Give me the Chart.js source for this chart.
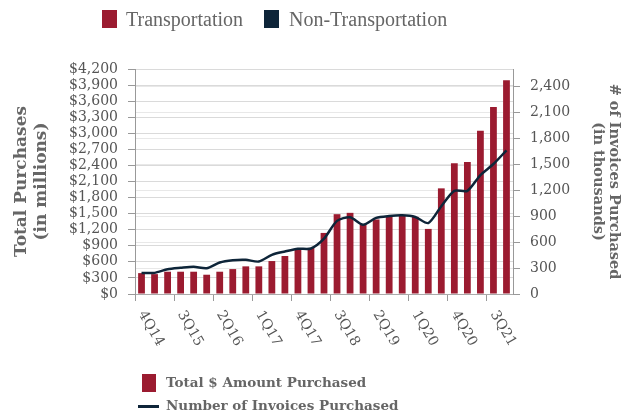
<!DOCTYPE html>
<html>
<head>
<meta charset="utf-8">
<script src="https://cdn.jsdelivr.net/npm/chart.js@4"></script>
<style>
  html, body { margin: 0; padding: 0; background: #fff; }
  #wrap { position: relative; width: 623px; height: 417px; overflow: hidden; font-family: "DejaVu Serif", serif; }
  #chart { position: absolute; left: 0; top: 0; }
  .sw { position: absolute; }
  .lbl { position: absolute; color: #666; white-space: nowrap; line-height: 1; }
  .top { font-family: "Liberation Serif", serif; font-size: 20px; top: 9px; }
  .bot { font-size: 13.5px; font-weight: bold; }
</style>
</head>
<body>
<div id="wrap">
  <canvas id="chart" width="623" height="417"></canvas>
  <!-- top legend -->
  <div class="sw" style="left:102px;top:10px;width:15px;height:18px;background:#9b1b30"></div>
  <div class="lbl top" style="left:126px">Transportation</div>
  <div class="sw" style="left:264px;top:10px;width:15px;height:18px;background:#0e2539"></div>
  <div class="lbl top" style="left:289px">Non-Transportation</div>
  <!-- bottom legend -->
  <div class="sw" style="left:142px;top:374px;width:14px;height:18px;background:#9b1b30"></div>
  <div class="lbl bot" style="left:166px;top:376px">Total $ Amount Purchased</div>
  <div class="sw" style="left:138px;top:405px;width:21px;height:3px;background:#0e2539"></div>
  <div class="lbl bot" style="left:166px;top:399px">Number of Invoices Purchased</div>
</div>
<script>
// quarters, 4Q14 - 4Q21
const quarters = ['4Q14', '1Q15', '2Q15', '3Q15', '4Q15', '1Q16', '2Q16', '3Q16', '4Q16',
  '1Q17', '2Q17', '3Q17', '4Q17', '1Q18', '2Q18', '3Q18', '4Q18', '1Q19', '2Q19', '3Q19',
  '4Q19', '1Q20', '2Q20', '3Q20', '4Q20', '1Q21', '2Q21', '3Q21', '4Q21'];

// total $ amount purchased (millions)
const totalPurchased = [390, 371, 416, 416, 416, 360, 416, 465, 516, 516, 615, 709, 821, 859,
  1140, 1490, 1515, 1300, 1391, 1453, 1472, 1440, 1215, 1972, 2441, 2466, 3047, 3491, 3990];

// number of invoices purchased (thousands)
const invoicesPurchased = [244, 244, 286, 302, 314, 297, 364, 390, 395, 375, 453, 491, 523, 526,
  639, 845, 887, 800, 880, 901, 909, 890, 820, 1015, 1192, 1192, 1374, 1502, 1660];

const leftTicks = { min: 0, max: 4200, step: 300 };
const rightTicks = { min: 0, max: 2600, step: 300 };

const barColor = '#9b1b30';
const lineColor = '#0e2539';
const textColor = '#555';
const serif = '"DejaVu Serif", serif';

// x labels are drawn turned clockwise, so they are painted here
const xLabels = {
  id: 'xLabels',
  afterDraw(chart) {
    const { ctx } = chart;
    const x = chart.scales.x;
    ctx.save();
    ctx.font = '14px ' + serif;
    ctx.fillStyle = textColor;
    ctx.textAlign = 'left';
    ctx.textBaseline = 'middle';
    x.ticks.forEach((t, i) => {
      if (i % 3) return;
      const px = x.getPixelForTick(i);
      ctx.save();
      ctx.translate(px, x.top + 18);
      ctx.rotate(Math.PI / 3);
      ctx.fillText(quarters[i], 0, 0);
      ctx.restore();
    });
    ctx.restore();
  }
};

new Chart(document.getElementById('chart'), {
  data: {
    labels: quarters,
    datasets: [
      {
        type: 'line',
        label: 'Number of Invoices Purchased',
        data: invoicesPurchased,
        yAxisID: 'y1',
        borderColor: lineColor,
        borderWidth: 2.5,
        pointRadius: 0,
        tension: 0.25,
        order: 0
      },
      {
        type: 'bar',
        label: 'Total $ Amount Purchased',
        data: totalPurchased,
        yAxisID: 'y',
        backgroundColor: barColor,
        categoryPercentage: 1,
        barPercentage: 0.52,
        order: 1
      }
    ]
  },
  options: {
    responsive: false,
    animation: false,
    layout: { padding: { top: 69, bottom: 116, left: 0, right: 0 } },
    plugins: {
      legend: { display: false },
      tooltip: { enabled: false }
    },
    scales: {
      x: {
        offset: true,
        grid: {
          display: true,
          drawOnChartArea: false,
          tickLength: 7,
          tickColor: c => (c.index % 3 === 0 ? '#999' : 'transparent')
        },
        border: { color: '#aaa' },
        ticks: { display: false }
      },
      y: {
        position: 'left',
        min: leftTicks.min,
        max: leftTicks.max,
        afterFit: s => { s.width = 135; },
        grid: { color: '#dadada', tickLength: 7, tickColor: '#999' },
        border: { color: '#999' },
        ticks: {
          stepSize: leftTicks.step,
          autoSkip: false,
          padding: 10,
          color: textColor,
          font: { family: serif, size: 14, lineHeight: 1 },
          callback: v => '$' + v.toLocaleString('en-US')
        },
        title: {
          display: true,
          text: ['Total Purchases', '(in millions)'],
          color: '#666',
          font: { family: serif, size: 17, weight: 'bold', lineHeight: 1.2 },
          padding: { top: 11 }
        }
      },
      y1: {
        position: 'right',
        min: rightTicks.min,
        max: rightTicks.max,
        afterFit: s => { s.width = 110; },
        grid: { color: '#e8e8e8', tickLength: 7, tickColor: '#999' },
        border: { color: '#999' },
        ticks: {
          stepSize: rightTicks.step,
          includeBounds: false,
          autoSkip: false,
          padding: 10,
          color: textColor,
          font: { family: serif, size: 14 },
          callback: v => v.toLocaleString('en-US')
        },
        title: {
          display: true,
          text: ['# of Invoices Purchased', '(in thousands)'],
          color: '#666',
          font: { family: serif, size: 14.5, weight: 'bold', lineHeight: 1.05 },
          padding: { top: 2 }
        }
      }
    }
  },
  plugins: [xLabels]
});
</script>
</body>
</html>
